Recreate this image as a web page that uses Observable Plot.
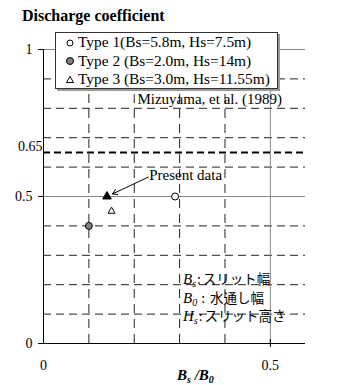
<!DOCTYPE html>
<html><head><meta charset="utf-8">
<script src="https://cdn.jsdelivr.net/npm/d3@7"></script>
<script src="https://cdn.jsdelivr.net/npm/@observablehq/plot@0.6"></script>
<style>
body{margin:0;background:#fff;}
#wrap{position:relative;width:340px;height:385px;font-family:"Liberation Serif","Times New Roman",serif;color:#000;overflow:hidden;}
#wrap svg{position:absolute;left:0;top:0;}
.ov{position:absolute;white-space:nowrap;}
#title{left:22px;top:7px;font-size:16px;font-weight:bold;line-height:18px;}
#legend{left:55px;top:32px;width:221px;height:55px;border:1px solid #333;background:#fff;box-shadow:2px 2px 0 #999;font-size:15.4px;}
#legend .row{position:relative;height:18.5px;line-height:18.5px;padding-left:22px;}
#legend .row svg{position:absolute;left:9px;top:4.5px;}
#defs{left:183px;top:269px;font-size:15px;}
#defs .row{height:18.5px;line-height:18.5px;}
#defs .jp{font-family:"Noto Sans CJK JP",sans-serif;font-size:13.5px;}
#defs .colon{font-family:"Noto Sans CJK JP",sans-serif;font-size:13.5px;margin:0 2px 0 1px;}
#defs i{font-style:italic;}
sub{font-size:10px;vertical-align:-3px;line-height:0;}
#xlabel{left:177px;top:366px;font-size:15px;font-weight:bold;font-style:italic;line-height:18px;}
</style></head><body><div id="wrap"></div>
<script>
// ---- data ----
const seriesNames = ["Type 1(Bs=5.8m, Hs=7.5m)", "Type 2 (Bs=2.0m, Hs=14m)", "Type 3 (Bs=3.0m, Hs=11.55m)", "Present data"];
const bsOverB0 = [0.29, 0.10, 0.15, 0.14];
const dischargeCoef = [0.50, 0.40, 0.45, 0.50];
const symbols = ["circle", "circle", "triangle", "triangle"];
const fills = ["#ffffff", "#808080", "#ffffff", "#000000"];
const yTickValues = [0, 0.5, 1];
const xTickValues = [0, 0.5];
const referenceLevel = [0.65];
const gridXValues = [0.1, 0.2, 0.3, 0.4];
const gridYValues = [0.1, 0.2, 0.3, 0.4, 0.6, 0.7, 0.8, 0.9];
const solidYValues = [0.5, 1];
const solidXValues = [0.5];
const sourceNote = [{x: 0.207, y: 0.83, text: "Mizuyama, et al. (1989)"}];
const presentNote = [{x: 0.233, y: 0.572, text: "Present data", x1: 0.231, y1: 0.566}];
const defs = [["B", "s", ":", "スリット幅"], ["B", "0", " : ", "水通し幅"], ["H", "s", ":", "スリット高さ"]];

const rows = seriesNames.map((name, i) => ({name, x: bsOverB0[i], y: dischargeCoef[i], symbol: symbols[i], fill: fills[i]}));
const present = rows[3];
const fmt = d => String(d);

const font = "Liberation Serif, Times New Roman, serif";
const plot = Plot.plot({
  width: 340, height: 385,
  marginTop: 49, marginBottom: 42, marginLeft: 43, marginRight: 35,
  x: {domain: [0, 0.5775]},
  y: {domain: [0, 1]},
  color: {type: "identity"},
  style: {fontFamily: font, fontSize: "14px", background: "#fff", color: "#000"},
  marks: [
    Plot.ruleY(gridYValues, {stroke: "#222", strokeDasharray: "8,5"}),
    Plot.ruleX(gridXValues, {stroke: "#222", strokeDasharray: "9,6"}),
    Plot.ruleY(solidYValues, {stroke: "#888"}),
    Plot.ruleX(solidXValues, {stroke: "#888"}),
    Plot.ruleY(referenceLevel, {stroke: "#000", strokeWidth: 2, strokeDasharray: "7,4"}),
    Plot.ruleY([0], {stroke: "#000"}),
    Plot.ruleX([0], {stroke: "#000"}),
    Plot.ruleX(solidXValues, {y1: 0, y2: 0, insetTop: -4, insetBottom: -4, stroke: "#000"}),
    Plot.axisY(yTickValues, {tickSize: 5, tickPadding: 6, label: null, fontSize: 14, tickFormat: fmt}),
    Plot.axisX(xTickValues, {tickSize: 0, tickPadding: 17, label: null, fontSize: 14, tickFormat: fmt}),
    Plot.text(referenceLevel, {x: 0, y: d => d, text: d => String(d), textAnchor: "end", dx: -1, dy: -6, fontSize: 14}),
    Plot.dot(rows.filter(d => d.symbol === "circle"), {x: "x", y: "y", r: 3.5, symbol: "circle", fill: "fill", stroke: "#000", strokeWidth: 1}),
    Plot.dot(rows.filter((d, i) => i === 2), {x: "x", y: "y", r: 2.6, symbol: "triangle", fill: "fill", stroke: "#000", strokeWidth: 1}),
    Plot.dot(rows.filter((d, i) => i === 3), {x: "x", y: "y", r: 3.2, symbol: "triangle", fill: "fill", stroke: "#000", strokeWidth: 1}),
    Plot.arrow(presentNote, {x1: "x1", y1: "y1", x2: () => present.x, y2: () => present.y, insetEnd: 6, headLength: 8, stroke: "#000", strokeWidth: 1}),
    Plot.text(presentNote, {x: "x", y: "y", text: "text", textAnchor: "start", fontSize: 15}),
    Plot.text(sourceNote, {x: "x", y: "y", text: "text", textAnchor: "start", fontSize: 15})
  ]
});
const wrap = document.getElementById("wrap");
wrap.appendChild(plot);

// title
const title = document.createElement("div");
title.className = "ov"; title.id = "title"; title.textContent = "Discharge coefficient";
wrap.appendChild(title);

// legend
const legend = document.createElement("div");
legend.className = "ov"; legend.id = "legend";
rows.slice(0, 3).forEach(d => {
  const r = document.createElement("div"); r.className = "row";
  const s = d3.create("svg").attr("width", 10).attr("height", 10);
  if (d.symbol === "circle") s.append("circle").attr("cx", 5).attr("cy", 5).attr("r", d.fill === "#ffffff" ? 3 : 3.5).attr("fill", d.fill).attr("stroke", "#000");
  else s.append("path").attr("d", d3.symbol(d3.symbolTriangle, 22)()).attr("transform", "translate(5,5.5)").attr("fill", d.fill).attr("stroke", "#000");
  r.appendChild(s.node());
  r.appendChild(document.createTextNode(d.name));
  legend.appendChild(r);
});
wrap.appendChild(legend);

// definitions
const dv = document.createElement("div");
dv.className = "ov"; dv.id = "defs";
defs.forEach(([a, b, c, e]) => {
  const r = document.createElement("div"); r.className = "row";
  r.innerHTML = `<i>${a}</i><sub><i>${b}</i></sub><span class="colon">${c}</span><span class="jp">${e}</span>`;
  dv.appendChild(r);
});
wrap.appendChild(dv);

// x label
const xl = document.createElement("div");
xl.className = "ov"; xl.id = "xlabel";
xl.innerHTML = "B<sub>s</sub> /B<sub>0</sub>";
wrap.appendChild(xl);
</script></body></html>
